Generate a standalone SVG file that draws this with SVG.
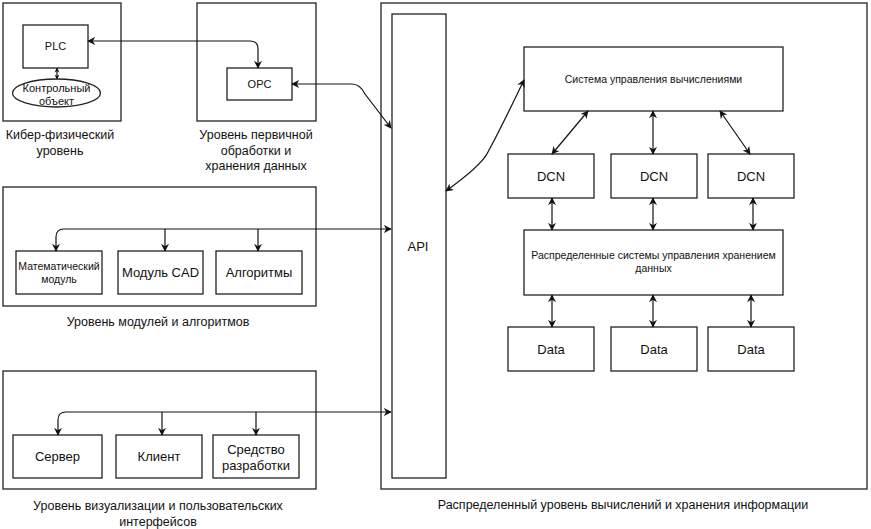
<svg xmlns="http://www.w3.org/2000/svg" width="871" height="529" viewBox="0 0 871 529">
<style>
.b{fill:#fff;stroke:#222;stroke-width:1.3}
.c{fill:none;stroke:#111;stroke-width:1.2}
text{font-family:"Liberation Sans",Arial,sans-serif;fill:#111;text-anchor:middle}
.s{font-size:11px}
.m{font-size:12.5px}
.l{font-size:13px}
</style>
<defs>
<marker id="a" viewBox="0 0 10 10" refX="9" refY="5" markerWidth="8" markerHeight="8" orient="auto-start-reverse" markerUnits="userSpaceOnUse">
<path d="M0,0 L10,5 L0,10 L3,5 Z" fill="#111"/>
</marker>
<marker id="sm" viewBox="0 0 10 10" refX="9" refY="5" markerWidth="5" markerHeight="6" orient="auto-start-reverse" markerUnits="userSpaceOnUse">
<path d="M0,0 L10,5 L0,10 L3,5 Z" fill="#111"/>
</marker>
</defs>
<rect width="871" height="529" fill="#fff"/>

<g id="cyber">
<rect class="b" x="3" y="3" width="118" height="118"/>
<text class="m" x="60" y="139">Кибер-физический</text>
<text class="m" x="60" y="155">уровень</text>
</g>
<g id="plc"><rect class="b" x="23" y="25" width="65" height="43"/><text class="s" x="55.5" y="50">PLC</text></g>
<g id="obj"><ellipse class="b" cx="56.5" cy="93" rx="44" ry="14"/><text class="s" x="56.5" y="92">Контрольный</text><text class="s" x="56.5" y="105">объект</text></g>

<g id="primary">
<rect class="b" x="197" y="3" width="119" height="118"/>
<text class="m" x="256" y="139">Уровень первичной</text>
<text class="m" x="256" y="155">обработки и</text>
<text class="m" x="256" y="170">хранения данных</text>
</g>
<g id="opc"><rect class="b" x="227" y="68" width="65" height="32"/><text class="s" x="259.5" y="88">OPC</text></g>

<g id="modules">
<rect class="b" x="3" y="187" width="313" height="119"/>
<text class="m" x="158" y="326">Уровень модулей и алгоритмов</text>
</g>
<g id="math"><rect class="b" x="16" y="251" width="86" height="43"/><text font-size="10.5" x="59" y="270">Математический</text><text font-size="10.5" x="59" y="283">модуль</text></g>
<g id="cad"><rect class="b" x="118" y="251" width="85" height="43"/><text class="l" x="160.5" y="277">Модуль CAD</text></g>
<g id="alg"><rect class="b" x="216" y="251" width="86" height="43"/><text class="l" x="259" y="277">Алгоритмы</text></g>

<g id="vis">
<rect class="b" x="3" y="371" width="313" height="118"/>
<text class="m" x="158" y="510">Уровень визуализации и пользовательских</text>
<text class="m" x="158" y="526">интерфейсов</text>
</g>
<g id="server"><rect class="b" x="13" y="435" width="89" height="43"/><text class="l" x="57.5" y="461">Сервер</text></g>
<g id="client"><rect class="b" x="116" y="435" width="86" height="43"/><text class="l" x="159" y="461">Клиент</text></g>
<g id="dev"><rect class="b" x="213" y="435" width="86" height="43"/><text class="l" x="256" y="454">Средство</text><text class="l" x="256" y="470">разработки</text></g>

<g id="dist">
<rect class="b" x="381" y="3" width="486" height="486"/>
<text class="m" x="623" y="509">Распределенный уровень вычислений и хранения информации</text>
</g>
<g id="api"><rect class="b" x="392" y="14" width="54" height="464"/><text class="l" x="418" y="251">API</text></g>
<g id="scs"><rect class="b" x="524" y="47" width="259" height="64"/><text font-size="10.5" x="653.5" y="83">Система управления вычислениями</text></g>
<g id="dcn1"><rect class="b" x="508" y="154" width="86" height="44"/><text class="l" x="551" y="181">DCN</text></g>
<g id="dcn2"><rect class="b" x="611" y="154" width="86" height="44"/><text class="l" x="654" y="181">DCN</text></g>
<g id="dcn3"><rect class="b" x="708" y="154" width="86" height="44"/><text class="l" x="751" y="181">DCN</text></g>
<g id="dss"><rect class="b" x="524" y="230" width="259" height="65"/><text font-size="10.5" x="653.5" y="259">Распределенные системы управления хранением</text><text font-size="10.5" x="653.5" y="272">данных</text></g>
<g id="data1"><rect class="b" x="508" y="327" width="86" height="44"/><text class="l" x="551" y="354">Data</text></g>
<g id="data2"><rect class="b" x="611" y="327" width="86" height="44"/><text class="l" x="654" y="354">Data</text></g>
<g id="data3"><rect class="b" x="708" y="327" width="86" height="44"/><text class="l" x="751" y="354">Data</text></g>

<g id="connectors">
<path class="c" d="M57,68 L57,79" marker-start="url(#sm)" marker-end="url(#sm)"/>
<path class="c" d="M88,41 L250,41 Q258,41 258,49 L258,68" marker-start="url(#a)" marker-end="url(#a)"/>
<path class="c" d="M292,84 L352,84 Q360,84 365,94 L391,128" marker-start="url(#a)" marker-end="url(#a)"/>
<path class="c" d="M446,191 Q482,165 488,152 Q500,130 524,80" marker-start="url(#a)" marker-end="url(#a)"/>
<path class="c" d="M56,251 L56,237 Q56,229 64,229 L391,229" marker-start="url(#a)" marker-end="url(#a)"/>
<path class="c" d="M165,229 L165,251" marker-end="url(#a)"/>
<path class="c" d="M258,229 L258,251" marker-end="url(#a)"/>
<path class="c" d="M58,435 L58,420 Q58,412 66,412 L391,412" marker-start="url(#a)" marker-end="url(#a)"/>
<path class="c" d="M162,412 L162,435" marker-end="url(#a)"/>
<path class="c" d="M256,412 L256,435" marker-end="url(#a)"/>
<path class="c" d="M588,111 L552,154" marker-start="url(#a)" marker-end="url(#a)"/>
<path class="c" d="M653,111 L653,154" marker-start="url(#a)" marker-end="url(#a)"/>
<path class="c" d="M720,111 L750,154" marker-start="url(#a)" marker-end="url(#a)"/>
<path class="c" d="M552,198 L552,230" marker-start="url(#a)" marker-end="url(#a)"/>
<path class="c" d="M653,198 L653,230" marker-start="url(#a)" marker-end="url(#a)"/>
<path class="c" d="M753,198 L753,230" marker-start="url(#a)" marker-end="url(#a)"/>
<path class="c" d="M552,295 L552,327" marker-start="url(#a)" marker-end="url(#a)"/>
<path class="c" d="M653,295 L653,327" marker-start="url(#a)" marker-end="url(#a)"/>
<path class="c" d="M751,295 L751,327" marker-start="url(#a)" marker-end="url(#a)"/>
</g>
</svg>
